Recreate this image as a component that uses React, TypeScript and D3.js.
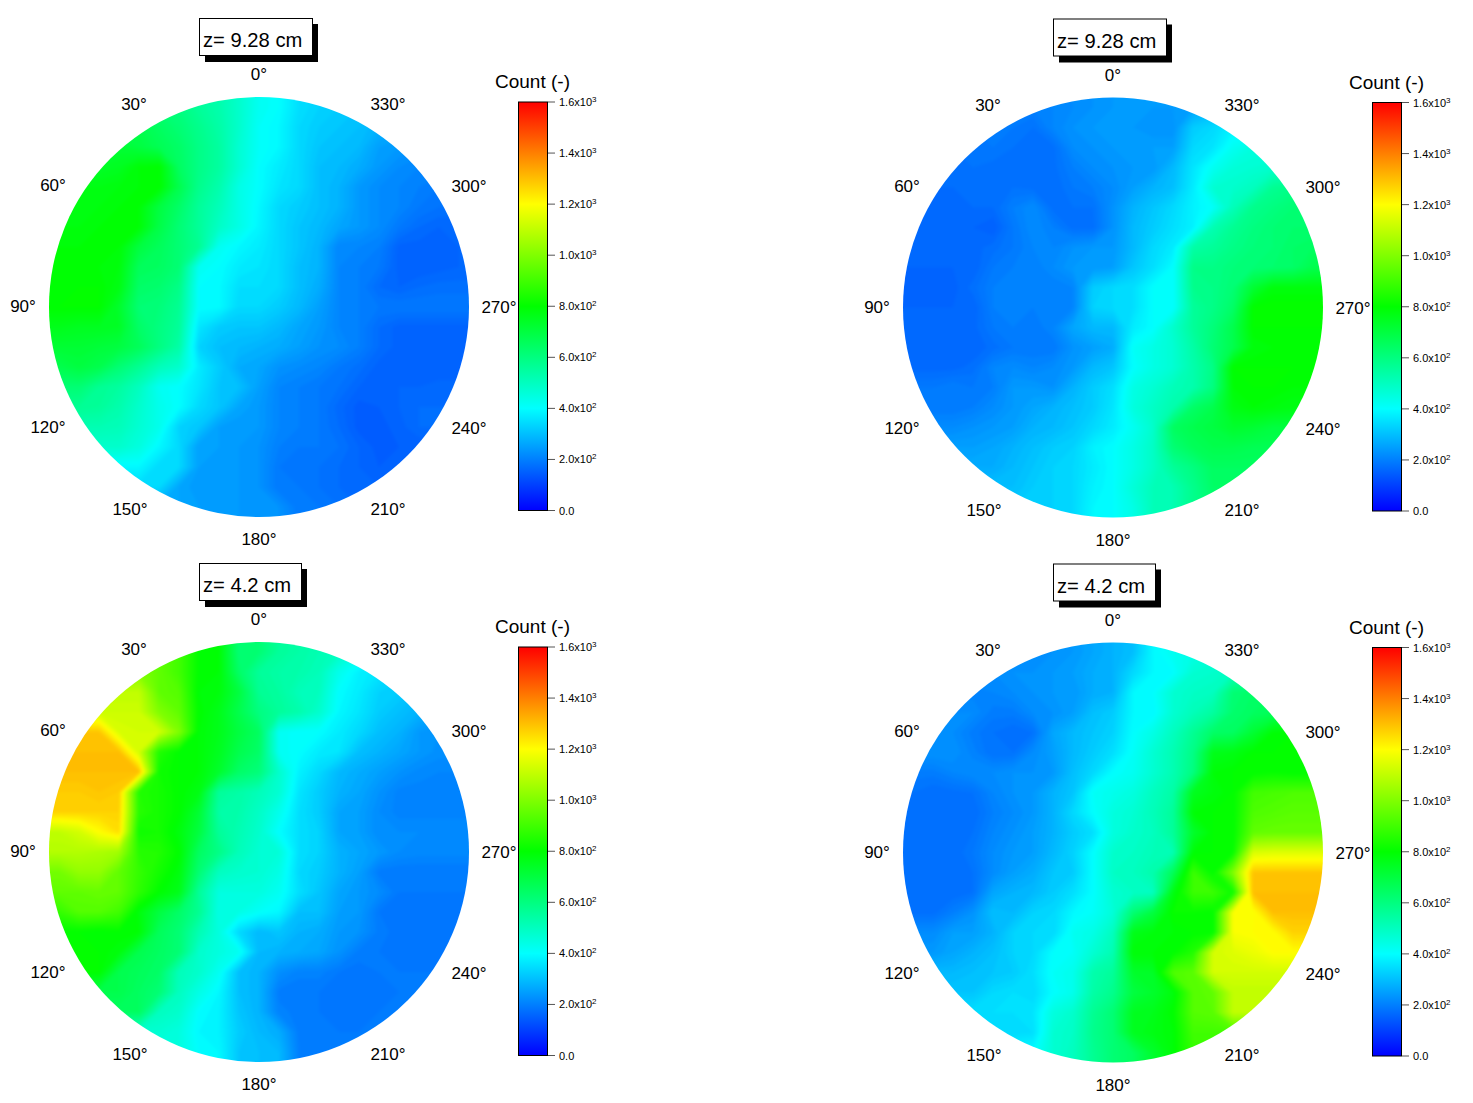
import React from "react";
import * as d3 from "d3";

const colorStops = [0, 400, 800, 1200, 1600];
const colorNames = ["#0000ff", "#00ffff", "#00ff00", "#ffff00", "#ff0000"];
const barTicks = [0, 200, 400, 600, 800, 1000, 1200, 1400, 1600];
const barMantissas = ["0.0", "2.0", "4.0", "6.0", "8.0", "1.0", "1.2", "1.4", "1.6"];
const barExponents = ["", "2", "2", "2", "2", "3", "3", "3", "3"];
const angleLabels = [0, 30, 60, 90, 120, 150, 180, 210, 240, 270, 300, 330];

const gridTopLeft = [
  [620,620,620,620,620,620,600,560,530,480,420,400,350,330,320,310,300,290,280,270,270],
  [680,680,680,680,680,650,620,580,540,480,410,390,340,320,310,300,280,270,260,250,250],
  [720,720,720,720,700,670,640,590,550,470,410,390,340,310,300,290,250,240,230,220,220],
  [740,740,740,750,790,800,650,590,550,470,400,370,340,300,290,270,240,220,210,210,210],
  [770,770,770,780,790,800,680,580,530,440,400,360,340,300,280,240,220,210,200,190,190],
  [770,770,780,790,790,700,640,560,510,440,390,340,320,300,280,240,220,210,190,180,180],
  [780,780,790,790,790,690,620,560,490,440,385,340,310,290,260,240,220,190,170,160,160],
  [790,790,790,790,700,660,620,570,420,390,370,340,310,280,210,210,200,155,155,155,160],
  [790,790,790,780,660,650,620,420,400,370,360,340,300,280,210,200,190,155,150,155,160],
  [790,800,800,770,640,630,590,400,395,350,350,340,300,270,210,200,170,160,170,175,175],
  [800,800,800,730,620,610,570,400,395,340,340,320,290,250,210,200,190,190,190,190,190],
  [760,750,750,740,640,600,560,360,320,310,310,290,260,240,210,200,170,155,155,155,155],
  [720,720,710,700,660,600,540,330,300,290,280,270,250,230,220,200,170,155,150,150,150],
  [680,700,680,620,570,510,480,370,320,270,260,230,220,210,190,175,155,155,155,150,150],
  [620,620,570,550,500,420,400,360,310,300,250,210,200,190,180,160,155,160,160,165,165],
  [570,570,560,530,480,430,400,340,310,260,240,210,200,190,165,145,150,160,170,170,170],
  [520,520,520,510,470,430,330,310,250,240,240,210,200,190,170,145,145,155,170,170,170],
  [480,480,480,480,450,390,340,250,250,240,230,200,190,190,180,160,145,150,150,150,150],
  [390,390,390,390,390,340,340,250,240,240,230,190,180,180,170,160,150,150,150,150,150],
  [340,340,340,340,340,340,260,240,240,240,230,190,190,180,170,160,160,160,160,160,160],
  [260,260,260,260,260,260,260,250,240,240,235,230,190,190,180,170,165,165,165,165,165],
];
const gridTopRight = [
  [200,200,200,200,200,200,200,210,220,230,240,245,240,240,250,280,320,340,340,340,340],
  [190,190,190,190,190,190,180,210,230,240,240,240,230,230,320,340,380,380,380,380,380],
  [180,180,180,180,190,180,170,175,220,230,240,240,250,250,340,360,420,450,450,450,450],
  [175,175,175,180,175,175,170,175,200,220,230,240,240,290,360,420,460,470,480,480,480],
  [170,170,170,170,170,180,175,170,190,200,220,250,280,300,370,470,480,500,570,590,590],
  [160,160,165,170,170,200,220,175,180,180,230,280,310,340,380,410,510,580,600,620,620],
  [160,160,160,160,150,190,220,200,175,175,230,290,320,350,380,520,570,600,620,630,630],
  [160,160,160,165,175,190,210,210,230,240,240,290,340,370,540,560,590,610,620,640,650],
  [160,160,160,160,190,200,200,220,240,240,250,310,350,400,590,590,610,620,630,640,680],
  [155,155,155,175,200,210,210,200,210,320,340,350,400,400,580,590,620,720,780,780,780],
  [160,160,160,160,200,200,200,200,210,330,340,350,400,400,560,590,640,800,810,810,810],
  [160,160,160,165,190,200,190,210,260,290,290,370,400,480,560,610,680,800,800,800,800],
  [160,160,160,160,175,190,190,190,230,250,270,410,440,470,540,620,680,780,790,790,790],
  [165,165,165,175,210,220,210,220,240,290,310,400,440,470,530,590,800,800,800,800,800],
  [190,190,200,190,200,240,240,230,280,320,350,440,470,510,530,600,790,800,800,790,790],
  [190,190,190,200,220,240,260,280,300,320,360,450,490,530,640,680,770,790,780,770,770],
  [220,220,220,230,240,250,280,290,310,340,370,420,480,650,680,700,730,720,700,700,700],
  [250,250,250,250,260,280,300,320,330,380,400,440,490,620,660,680,680,670,670,670,670],
  [270,270,270,270,270,290,310,330,340,370,400,440,490,560,600,650,650,650,650,650,650],
  [300,300,300,300,300,300,320,330,340,380,400,460,510,520,580,640,640,640,640,640,640],
  [320,320,320,320,320,320,320,330,340,390,400,440,510,520,580,620,620,620,620,620,620],
];
const gridBottomLeft = [
  [950,950,950,950,950,950,900,800,790,620,620,560,540,520,500,450,400,380,360,340,340],
  [1000,1000,1000,1000,1000,950,900,800,790,640,560,540,530,510,430,380,360,340,320,300,300],
  [1100,1100,1100,1100,1100,950,930,790,780,700,570,550,510,500,400,370,330,320,300,290,290],
  [1120,1120,1120,1120,1120,1000,950,800,760,680,600,560,530,480,390,360,320,300,280,260,260],
  [1290,1290,1290,1140,1130,1130,1000,790,760,700,650,420,400,400,370,340,300,280,240,230,230],
  [1300,1300,1300,1300,1130,850,800,790,750,680,640,420,400,370,360,300,280,260,240,225,225],
  [1300,1300,1300,1300,1300,820,800,790,730,640,610,480,380,340,290,270,250,230,215,210,210],
  [1280,1280,1290,1280,850,830,800,770,560,540,510,470,360,320,280,260,230,205,205,205,205],
  [1270,1270,1270,1270,860,830,800,720,540,530,490,430,350,320,260,250,220,205,205,205,205],
  [1100,1130,1200,1250,820,830,780,700,560,520,480,400,350,330,260,250,220,220,220,220,220],
  [1080,1080,1070,1050,860,850,800,650,590,510,470,460,350,330,280,260,240,220,215,215,215],
  [980,1030,1030,950,880,830,780,620,500,480,470,440,340,320,280,250,195,190,190,190,190],
  [950,950,960,950,870,800,760,560,450,450,450,420,350,310,260,240,220,190,190,190,190],
  [880,930,930,900,780,700,640,570,440,440,410,390,300,300,250,240,190,185,185,185,185],
  [800,800,790,800,790,660,620,520,450,340,290,310,280,270,240,230,195,185,185,185,185],
  [800,800,800,780,680,650,620,480,450,420,290,280,270,260,230,195,190,185,185,185,185],
  [800,800,800,680,660,640,510,480,420,300,280,225,205,205,190,185,190,190,190,190,190],
  [680,680,680,680,650,620,500,440,390,300,280,195,190,190,185,185,185,190,190,190,190],
  [650,650,650,650,650,500,480,400,380,310,280,205,195,190,185,185,190,190,190,190,190],
  [470,470,470,470,470,470,450,390,380,320,290,270,195,195,190,190,190,190,190,190,190],
  [450,450,450,450,450,450,450,400,390,310,300,290,200,195,190,190,190,190,190,190,190],
];
const gridBottomRight = [
  [220,220,220,220,220,220,220,230,240,260,280,300,390,420,440,460,470,480,480,480,480],
  [220,220,220,220,220,230,230,240,250,270,280,340,390,400,470,480,500,510,520,520,520],
  [205,205,205,205,210,220,230,240,240,270,280,390,400,470,490,500,620,640,650,650,650],
  [220,220,220,220,195,195,220,230,250,300,320,390,390,470,510,550,630,650,660,660,660],
  [220,220,220,195,180,170,180,260,290,310,330,400,440,500,570,640,650,720,790,800,800],
  [230,230,230,205,180,180,220,250,290,320,350,410,470,520,590,760,770,800,800,800,800],
  [195,195,210,220,220,230,230,240,300,340,400,420,470,520,600,790,800,800,810,800,800],
  [180,170,175,180,210,230,240,280,310,410,430,450,500,540,750,780,800,900,910,920,920],
  [170,170,170,170,200,220,240,280,340,400,450,470,510,560,790,800,800,920,930,940,940],
  [170,170,170,180,210,230,250,280,320,350,450,480,500,560,730,800,800,950,960,960,960],
  [170,170,170,190,220,240,250,290,330,400,480,490,510,520,790,800,810,1140,1150,1150,1150],
  [170,170,175,180,220,250,270,310,320,400,490,500,530,660,890,800,1000,1290,1290,1290,1290],
  [175,170,170,180,260,280,290,320,350,400,470,490,500,770,890,890,820,1300,1300,1300,1300],
  [175,175,200,230,300,290,330,340,390,410,460,620,700,810,810,800,1190,1190,1300,1300,1300],
  [220,220,250,250,280,330,340,340,420,440,500,760,780,790,800,800,1190,1200,1200,1270,1270],
  [240,240,260,280,300,330,340,400,410,470,520,790,790,800,850,1130,1150,1170,1200,1200,1200],
  [290,290,290,300,310,320,350,410,430,530,560,730,740,920,940,1130,1130,1130,1130,1130,1130],
  [310,310,310,310,340,350,340,400,430,540,580,700,730,780,930,950,1100,1100,1100,1100,1100],
  [350,350,350,350,350,350,360,450,480,570,620,750,760,800,930,940,1100,1100,1100,1100,1100],
  [340,340,340,340,340,340,350,470,490,580,620,750,770,790,900,900,900,900,900,900,900],
  [400,400,400,400,400,400,400,470,500,570,620,650,730,790,880,880,880,880,880,880,880],
];

const color = d3.scaleLinear<string>().domain(colorStops).range(colorNames).clamp(true);
const thresholds = d3.range(0, 1600, 10);
const R = 210;
const labelFont = "'Liberation Sans', Arial, sans-serif";

const labelDx: Record<number, number> = { 0: 0, 30: 125, 60: 206, 90: 236, 120: 211, 150: 129, 180: 0, 210: 129, 240: 210, 270: 240, 300: 210, 330: 129 };
const labelDy: Record<number, number> = { 0: -233, 30: -203, 60: -122, 90: -1, 120: 120, 150: 202, 180: 232, 210: 202, 240: 121, 270: 0, 300: -121, 330: -203 };

function padded(grid: number[][]): number[] {
  const n = grid.length;
  const out: number[] = [];
  for (let i = -1; i <= n; i++) {
    for (let j = -1; j <= n; j++) {
      const r = grid[Math.max(0, Math.min(n - 1, i))];
      out.push(r[Math.max(0, Math.min(n - 1, j))]);
    }
  }
  return out;
}

function Panel({ id, ox, oy, title, boxW, grid }: { id: string; ox: number; oy: number; title: string; boxW: number; grid: number[][] }) {
  const cx = 259, cy = 307;
  const n = grid.length;
  const step = (2 * R) / n;
  const contourGen = d3.contours().size([n + 2, n + 2]).thresholds(thresholds);
  const bands = contourGen(padded(grid));
  const path = d3.geoPath(d3.geoIdentity().scale(step).translate([cx - R - step, cy - R - step]) as any);
  const barY = d3.scaleLinear().domain([0, 1600]).range([510.5, 102]);
  return (
    <g transform={`translate(${ox},${oy})`}>
      <clipPath id={`clip-${id}`}>
        <circle cx={cx} cy={cy} r={R} />
      </clipPath>
      <filter id={`soft-${id}`} filterUnits="userSpaceOnUse" x={cx - R - 30} y={cy - R - 30} width={2 * R + 60} height={2 * R + 60} colorInterpolationFilters="sRGB">
        <feGaussianBlur stdDeviation={1.5} />
      </filter>
      <g clipPath={`url(#clip-${id})`}>
        <g filter={`url(#soft-${id})`}>
          {bands.map((b) => (
            <path key={b.value} d={path(b as any) || ""} fill={color(b.value + 5)} />
          ))}
        </g>
      </g>
      {angleLabels.map((a) => {
        const side = a === 0 || a === 180 ? 0 : a < 180 ? -1 : 1;
        return (
          <text key={a} x={cx + side * labelDx[a]} y={cy + labelDy[a] + 6} textAnchor="middle" fontSize={17} fontFamily={labelFont} fill="#000">
            {a}°
          </text>
        );
      })}
      <rect x={205} y={24} width={boxW} height={38} fill="#000" />
      <rect x={199.5} y={18.5} width={boxW} height={37} fill="#fff" stroke="#000" strokeWidth={1} />
      <text x={203} y={47} fontSize={20.2} fontFamily={labelFont} fill="#000">{title}</text>
      <text x={495} y={88} fontSize={19} fontFamily={labelFont} fill="#000">Count (-)</text>
      <linearGradient id={`grad-${id}`} x1="0" y1="1" x2="0" y2="0">
        {colorStops.map((s, i) => (
          <stop key={s} offset={s / 1600} stopColor={colorNames[i]} />
        ))}
      </linearGradient>
      <rect x={518.5} y={102} width={29} height={408.5} fill={`url(#grad-${id})`} stroke="#000" strokeWidth={1} />
      {barTicks.map((t, i) => (
        <g key={t}>
          <line x1={548} x2={555} y1={barY(t)} y2={barY(t)} stroke="#555" strokeWidth={1} />
          <text x={559} y={barY(t) + 4} fontSize={11} fontFamily={labelFont} fill="#000">
            {barMantissas[i]}
            {barExponents[i] && "x10"}
            {barExponents[i] && <tspan dy={-4} fontSize={8}>{barExponents[i]}</tspan>}
          </text>
        </g>
      ))}
    </g>
  );
}

export default function App() {
  return (
    <svg width={1473} height={1103} style={{ position: "absolute", left: 0, top: 0, display: "block", background: "#fff" }}>
      <Panel id="a" ox={0} oy={0} title="z= 9.28 cm" boxW={113} grid={gridTopLeft} />
      <Panel id="b" ox={854} oy={0.5} title="z= 9.28 cm" boxW={113} grid={gridTopRight} />
      <Panel id="c" ox={0} oy={545} title="z= 4.2 cm" boxW={102} grid={gridBottomLeft} />
      <Panel id="d" ox={854} oy={545.5} title="z= 4.2 cm" boxW={102} grid={gridBottomRight} />
    </svg>
  );
}
